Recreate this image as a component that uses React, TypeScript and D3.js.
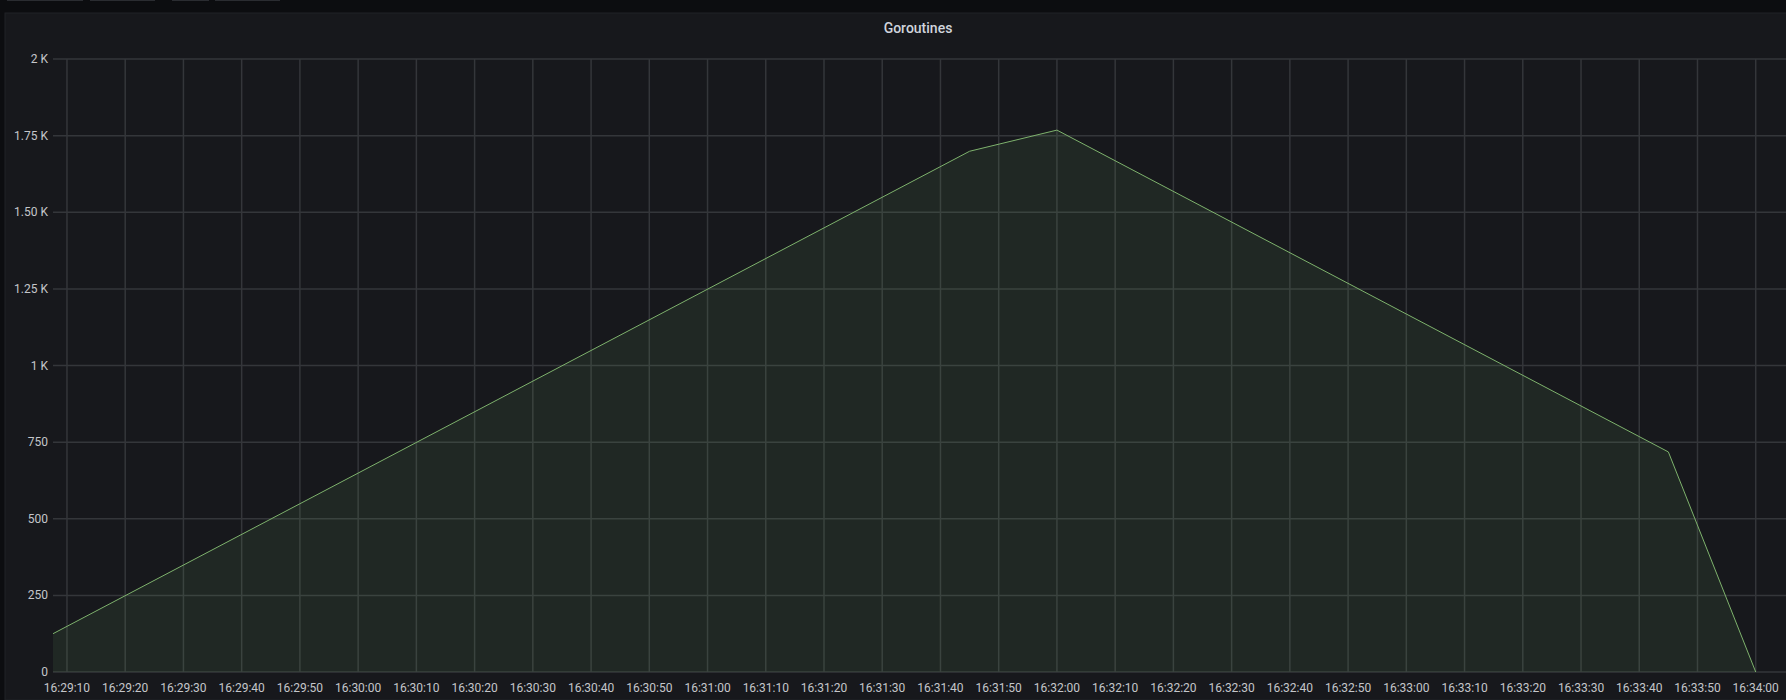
import React from "react";
import * as d3 from "d3";

// Series vertices (time "HH:MM:SS", goroutines)
const times = ["16:29:07.6", "16:31:45", "16:32:00", "16:33:45", "16:34:00"];
const values = [125, 1699, 1768, 718, 0];

const yTicks = [0, 250, 500, 750, 1000, 1250, 1500, 1750, 2000];
const yTickLabels = ["0", "250", "500", "750", "1 K", "1.25 K", "1.50 K", "1.75 K", "2 K"];

const domainStart = "16:29:07.6";
const domainEnd = "16:34:05.2";

const parseTime = (s: string) => {
  const [h, m, sec] = s.split(":");
  return new Date(2020, 0, 1, +h, +m, 0, Math.round(parseFloat(sec) * 1000));
};

const W = 1786,
  H = 700;
const margin = { top: 59, right: 0, bottom: 28, left: 53 };

export default function App() {
  const x = d3
    .scaleTime()
    .domain([parseTime(domainStart), parseTime(domainEnd)])
    .range([margin.left, W - margin.right]);
  const y = d3
    .scaleLinear()
    .domain([0, 2000])
    .range([H - margin.bottom, margin.top]);

  const data = times.map((t, i) => ({ date: parseTime(t), value: values[i] }));

  const line = d3
    .line<{ date: Date; value: number }>()
    .x((d) => x(d.date))
    .y((d) => y(d.value));
  const area = d3
    .area<{ date: Date; value: number }>()
    .x((d) => x(d.date))
    .y0(y(0))
    .y1((d) => y(d.value));

  const xTicks = x.ticks(d3.timeSecond.every(10)!);
  const fmt = d3.timeFormat("%H:%M:%S");
  const font = "Roboto, 'Noto Sans', sans-serif";

  return (
    <svg
      width={W}
      height={H}
      style={{ position: "fixed", left: 0, top: 0, display: "block" }}
    >
      <rect width={W} height={H} fill="#0c0d10" />
      {/* toolbar remnants at the very top */}
      <rect x={7} y={0} width={76} height={1} fill="#2a2c31" />
      <rect x={90} y={0} width={65} height={1} fill="#2a2c31" />
      <rect x={172} y={0} width={37} height={1} fill="#2a2c31" />
      <rect x={215} y={0} width={65} height={1} fill="#2a2c31" />
      {/* panel */}
      <rect x={5} y={13} width={W} height={H - 13} fill="#17181c" stroke="#202226" />
      <text
        x={918}
        y={28}
        fill="#d0d4dc"
        fontFamily={font}
        fontSize={14}
        fontWeight={500}
        textAnchor="middle"
        dominantBaseline="central"
      >
        Goroutines
      </text>

      {/* grid */}
      <g stroke="#34363a" strokeWidth={1.5}>
        {yTicks.map((t) => (
          <line key={"h" + t} x1={margin.left} x2={W} y1={y(t)} y2={y(t)} />
        ))}
        {xTicks.map((t) => (
          <line key={"v" + +t} x1={x(t)} x2={x(t)} y1={y(2000)} y2={y(0)} />
        ))}
      </g>

      {/* series */}
      <path d={area(data) ?? ""} fill="#73bf69" fillOpacity={0.1} />
      <path d={line(data) ?? ""} fill="none" stroke="#7eb26d" strokeWidth={1} />

      {/* y labels */}
      <g fill="#c4c6ca" fontFamily={font} fontSize={12} textAnchor="end">
        {yTicks.map((t, i) => (
          <text key={t} x={48} y={y(t)} dominantBaseline="central">
            {yTickLabels[i]}
          </text>
        ))}
      </g>
      {/* x labels */}
      <g fill="#c4c6ca" fontFamily={font} fontSize={12} textAnchor="middle">
        {xTicks.map((t) => (
          <text key={+t} x={x(t)} y={688} dominantBaseline="central">
            {fmt(t)}
          </text>
        ))}
      </g>
    </svg>
  );
}
